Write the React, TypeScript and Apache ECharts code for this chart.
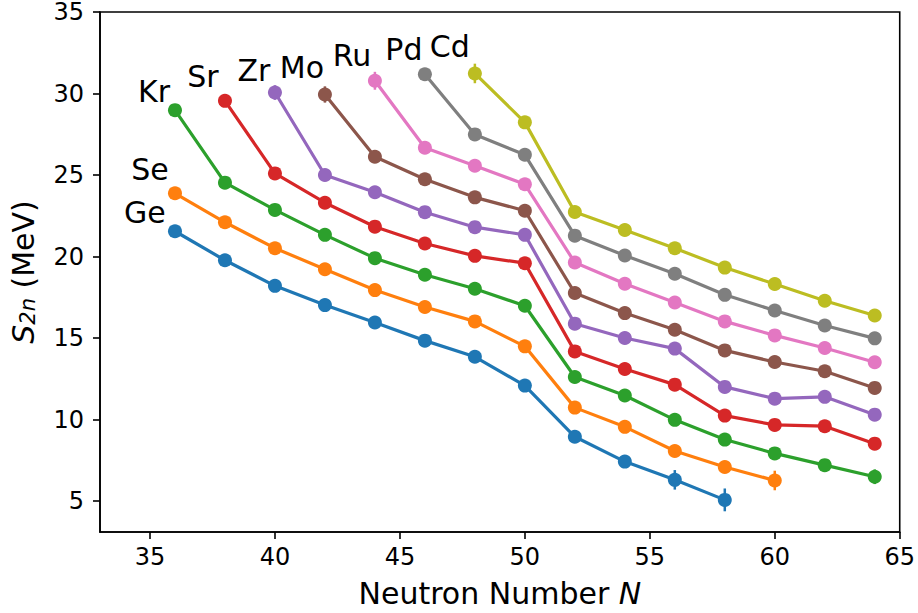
import React, { useEffect, useRef } from "react";
import * as echarts from "echarts";

const ELEMENTS = ["Ge", "Se", "Kr", "Sr", "Zr", "Mo", "Ru", "Pd", "Cd"];
const COLORS = ["#1f77b4", "#ff7f0e", "#2ca02c", "#d62728", "#9467bd", "#8c564b", "#e377c2", "#7f7f7f", "#bcbd22"];

const N_GE = [36, 38, 40, 42, 44, 46, 48, 50, 52, 54, 56, 58];
const S2N_GE = [21.55, 19.77, 18.2, 17.02, 15.95, 14.84, 13.85, 12.08, 8.94, 7.42, 6.3, 5.07];
const N_SE = [36, 38, 40, 42, 44, 46, 48, 50, 52, 54, 56, 58, 60];
const S2N_SE = [23.88, 22.1, 20.51, 19.22, 17.94, 16.9, 16.02, 14.49, 10.73, 9.55, 8.07, 7.09, 6.26];
const N_KR = [36, 38, 40, 42, 44, 46, 48, 50, 52, 54, 56, 58, 60, 62, 64];
const S2N_KR = [28.98, 24.53, 22.86, 21.33, 19.9, 18.88, 18.02, 16.98, 12.61, 11.47, 9.98, 8.77, 7.92, 7.2, 6.49];
const N_SR = [38, 40, 42, 44, 46, 48, 50, 52, 54, 56, 58, 60, 62, 64];
const S2N_SR = [29.55, 25.1, 23.3, 21.83, 20.8, 20.04, 19.59, 14.18, 13.1, 12.14, 10.24, 9.67, 9.59, 8.52];
const N_ZR = [40, 42, 44, 46, 48, 50, 52, 54, 56, 58, 60, 62, 64];
const S2N_ZR = [30.06, 25.0, 23.94, 22.72, 21.8, 21.33, 15.88, 15.0, 14.35, 12.0, 11.28, 11.39, 10.3];
const N_MO = [42, 44, 46, 48, 50, 52, 54, 56, 58, 60, 62, 64];
const S2N_MO = [29.94, 26.12, 24.74, 23.63, 22.81, 17.76, 16.53, 15.51, 14.24, 13.53, 12.96, 11.94];
const N_RU = [44, 46, 48, 50, 52, 54, 56, 58, 60, 62, 64];
const S2N_RU = [30.78, 26.67, 25.57, 24.43, 19.63, 18.33, 17.18, 16.02, 15.16, 14.39, 13.51];
const N_PD = [46, 48, 50, 52, 54, 56, 58, 60, 62, 64];
const S2N_PD = [31.18, 27.49, 26.24, 21.28, 20.06, 18.94, 17.65, 16.69, 15.77, 14.98];
const N_CD = [48, 50, 52, 54, 56, 58, 60, 62, 64];
const S2N_CD = [31.23, 28.23, 22.73, 21.63, 20.51, 19.32, 18.31, 17.29, 16.38];

// [N, uncertainty in MeV] for points with visible error bars
const ERR_GE = [[56, 0.6], [58, 0.7]];
const ERR_SE = [[60, 0.6]];
const ERR_KR = [[64, 0.45]];
const ERR_SR = [];
const ERR_ZR = [[40, 0.45]];
const ERR_MO = [[42, 0.5]];
const ERR_RU = [[44, 0.55]];
const ERR_PD = [];
const ERR_CD = [[48, 0.6]];

const X_TICKS = [35, 40, 45, 50, 55, 60, 65];
const Y_TICKS = [5, 10, 15, 20, 25, 30, 35];

const NS = [N_GE, N_SE, N_KR, N_SR, N_ZR, N_MO, N_RU, N_PD, N_CD];
const VALS = [S2N_GE, S2N_SE, S2N_KR, S2N_SR, S2N_ZR, S2N_MO, S2N_RU, S2N_PD, S2N_CD];
const ERRS = [ERR_GE, ERR_SE, ERR_KR, ERR_SR, ERR_ZR, ERR_MO, ERR_RU, ERR_PD, ERR_CD];

// label offsets (px) relative to the first point of each chain
const LABEL_OFFSETS = [[-30, -19], [-25, -24], [-21, -19], [-22, -24], [-21, -22], [-23, -27], [-23, -25], [-21, -25], [-25, -27]];

const FONT = "DejaVu Sans";

export default function App() {
  const ref = useRef<HTMLDivElement>(null);
  useEffect(() => {
    if (!ref.current) return;
    const chart = echarts.init(ref.current, undefined, { renderer: "svg" });
    const series: any[] = [];
    ELEMENTS.forEach((el, i) => {
      const ns = NS[i];
      const vals = VALS[i];
      const data = ns.map((n, j) => {
        const item: any = { value: [n, vals[j]] };
        if (j === 0) {
          item.label = {
            show: true,
            formatter: el,
            position: "inside",
            offset: LABEL_OFFSETS[i],
            fontSize: 30,
            fontFamily: FONT,
            color: "#000",
          };
        }
        return item;
      });
      const errData = ERRS[i].map(([n, e]) => {
        const idx = ns.indexOf(n);
        return [n, vals[idx], e];
      });
      series.push({
        type: "custom",
        name: el + "_err",
        data: errData,
        z: 3,
        renderItem: (params: any, api: any) => {
          const x = api.value(0);
          const y = api.value(1);
          const e = api.value(2);
          const p1 = api.coord([x, y - e]);
          const p2 = api.coord([x, y + e]);
          return {
            type: "line",
            shape: { x1: p1[0], y1: p1[1], x2: p2[0], y2: p2[1] },
            style: { stroke: COLORS[i], lineWidth: 2.5 },
          };
        },
      });
      series.push({
        type: "line",
        name: el,
        data,
        symbol: "circle",
        symbolSize: 14,
        z: 3,
        lineStyle: { color: COLORS[i], width: 3.2 },
        itemStyle: { color: COLORS[i] },
        label: { show: false },
      });
    });

    chart.setOption({
      animation: false,
      backgroundColor: "#fff",
      grid: {
        left: 97,
        right: 14,
        top: 12,
        bottom: 81,
        show: true,
        borderColor: "#000",
        borderWidth: 1.6,
      },
      xAxis: {
        type: "value",
        min: 33,
        max: 65,
        name: "Neutron Number {i|N}",
        nameLocation: "middle",
        nameGap: 46,
        nameTextStyle: {
          fontSize: 30,
          fontFamily: FONT,
          color: "#000",
          rich: { i: { fontSize: 30, fontFamily: FONT, fontStyle: "italic", color: "#000" } },
        },
        splitLine: { show: false },
        axisLine: { show: true, onZero: false, lineStyle: { color: "#000", width: 1.6 } },
        axisTick: { show: true, customValues: X_TICKS, length: 7, lineStyle: { color: "#000", width: 1.6 } },
        axisLabel: { customValues: X_TICKS, fontSize: 24, fontFamily: FONT, color: "#000", margin: 13 },
      },
      yAxis: {
        type: "value",
        min: 3.1,
        max: 35,
        name: "{s|S}{sub|2n} (MeV)",
        nameLocation: "middle",
        nameRotate: 90,
        nameGap: 62,
        nameTextStyle: {
          fontSize: 30,
          fontFamily: FONT,
          color: "#000",
          rich: {
            s: { fontSize: 30, fontFamily: FONT, fontStyle: "italic", color: "#000" },
            sub: { fontSize: 21, fontFamily: FONT, fontStyle: "italic", color: "#000", verticalAlign: "bottom" },
          },
        },
        splitLine: { show: false },
        axisLine: { show: true, onZero: false, lineStyle: { color: "#000", width: 1.6 } },
        axisTick: { show: true, customValues: Y_TICKS, length: 7, lineStyle: { color: "#000", width: 1.6 } },
        axisLabel: { customValues: Y_TICKS, fontSize: 24, fontFamily: FONT, color: "#000", margin: 16 },
      },
      series,
    });
    return () => chart.dispose();
  }, []);
  return <div ref={ref} style={{ position: "fixed", left: 0, top: 0, width: 918, height: 613 }} />;
}
